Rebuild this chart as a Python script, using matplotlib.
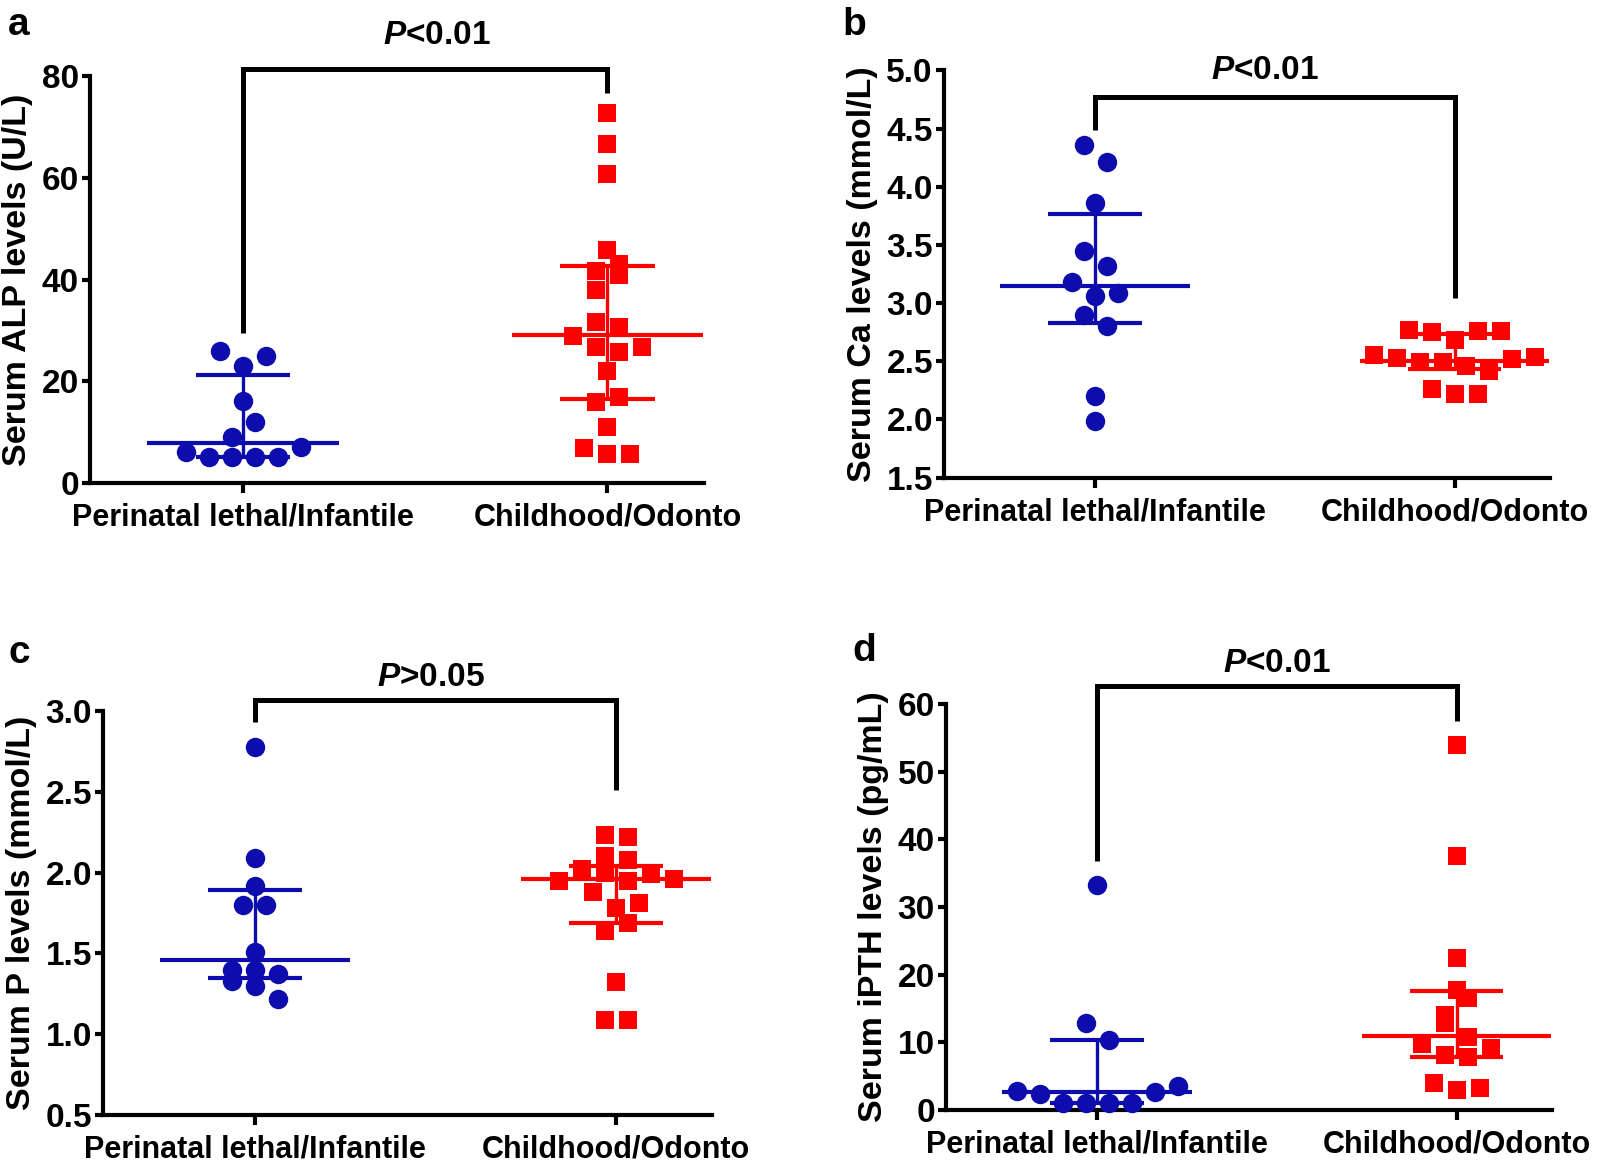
import numpy as np
import matplotlib
matplotlib.use('Agg')
import matplotlib.pyplot as plt
from matplotlib import font_manager

# ---------------- data ----------------
categories = ['Perinatal lethal/Infantile', 'Childhood/Odonto']

alp_peri = [26, 23, 25, 16, 9, 12, 6, 5, 5, 5, 5, 7]
alp_child = [72.8, 66.7, 60.7, 45.8, 41.7, 43.1, 38.0, 41.0, 31.7, 30.6, 28.8,
             26.7, 25.7, 26.7, 22.0, 15.9, 16.9, 10.9, 6.8, 5.6, 5.6]
alp_stats_peri = [7.8, 5.0, 21.2]      # median, q1, q3
alp_stats_child = [29.0, 16.4, 42.6]

ca_peri = [4.36, 4.21, 3.86, 3.45, 3.32, 3.18, 3.06, 3.09, 2.90, 2.80, 2.20, 1.99]
ca_child = [2.77, 2.75, 2.68, 2.76, 2.76, 2.55, 2.53, 2.49, 2.49, 2.46, 2.42,
            2.52, 2.54, 2.26, 2.22, 2.22]
ca_stats_peri = [3.15, 2.83, 3.77]
ca_stats_child = [2.50, 2.43, 2.73]

p_peri = [2.78, 2.09, 1.92, 1.80, 1.80, 1.51, 1.33, 1.40, 1.40, 1.30, 1.37, 1.22]
p_child = [2.23, 2.22, 2.10, 2.08, 1.95, 2.02, 2.00, 1.95, 1.99, 1.96, 1.88,
           1.78, 1.81, 1.64, 1.69, 1.32, 1.09, 1.09]
p_stats_peri = [1.46, 1.35, 1.89]
p_stats_child = [1.96, 1.69, 2.04]

pth_peri = [33.3, 12.8, 10.3, 2.8, 2.4, 1.1, 1.1, 1.1, 1.1, 2.7, 3.6]
pth_child = [53.9, 37.6, 22.4, 17.8, 14.1, 16.5, 12.8, 10.8, 9.7, 8.2, 7.9,
             9.2, 4.0, 3.0, 3.3]
pth_stats_peri = [2.7, 1.1, 10.3]
pth_stats_child = [10.9, 7.9, 17.6]

panel_letters = ['a', 'b', 'c', 'd']
ylabels = ['Serum ALP levels (U/L)', 'Serum Ca levels (mmol/L)',
           'Serum P levels (mmol/L)', 'Serum iPTH levels (pg/mL)']
p_texts = ['<0.01', '<0.01', '>0.05', '<0.01']
yticks_list = [[0, 20, 40, 60, 80],
               [1.5, 2.0, 2.5, 3.0, 3.5, 4.0, 4.5, 5.0],
               [0.5, 1.0, 1.5, 2.0, 2.5, 3.0],
               [0, 10, 20, 30, 40, 50, 60]]
ytick_fmt = ['{:.0f}', '{:.1f}', '{:.1f}', '{:.0f}']

# ---------------- style ----------------
names = {f.name for f in font_manager.fontManager.ttflist}
NARROW = 'Liberation Sans Narrow' if 'Liberation Sans Narrow' in names else 'Liberation Sans'
BOLDF = 'Liberation Sans'
plt.rcParams['mathtext.fontset'] = 'custom'
plt.rcParams['mathtext.it'] = 'Liberation Sans:italic:bold'
plt.rcParams['mathtext.rm'] = NARROW + ':bold'

BLUE = '#0d0dad'
RED = '#ff0000'
W, H = 1600, 1168
fig = plt.figure(figsize=(W / 100, H / 100), dpi=100)

# pixel rectangles (left, top, right, bottom)
rects = [(90, 76.5, 704, 482.7), (944, 70.4, 1550, 477.6),
         (103, 711, 712, 1115), (946, 704, 1552, 1110)]
XLIM = (-0.42, 1.265)
brackets = [(29.5, 81.5, 76.7), (4.49, 4.77, 3.04), (2.93, 3.067, 2.51), (36.8, 62.6, 57.5)]
ptext_pos = [(0.533, 88.0), (0.473, 5.0), (0.486, 3.21), (0.50, 66.0)]
letter_pos = [(8, 35), (842, 35), (8, 663), (852, 661)]

datasets = [(alp_peri, alp_child, alp_stats_peri, alp_stats_child),
            (ca_peri, ca_child, ca_stats_peri, ca_stats_child),
            (p_peri, p_child, p_stats_peri, p_stats_child),
            (pth_peri, pth_child, pth_stats_peri, pth_stats_child)]

BIN_PX = 17.8
STEP_PX = 23.0


def swarm(vals, binsize, step):
    vals = np.asarray(vals, float)
    order = np.argsort(vals, kind='stable')
    bins, cur, start = [], [], None
    for i in order:
        if start is None or vals[i] - start > binsize:
            if cur:
                bins.append(cur)
            cur, start = [i], vals[i]
        else:
            cur.append(i)
    if cur:
        bins.append(cur)
    offs = np.zeros(len(vals))
    for b in bins:
        b = sorted(b)
        n = len(b)
        for k, i in enumerate(b):
            offs[i] = (k - (n - 1) / 2) * step
    return offs


for pi in range(4):
    l, t, r, b = rects[pi]
    ax = fig.add_axes([l / W, 1 - b / H, (r - l) / W, (b - t) / H])
    yt = yticks_list[pi]
    ymin, ymax = yt[0], yt[-1]
    ax.set_xlim(*XLIM)
    ax.set_ylim(ymin, ymax)
    for s in ['top', 'right']:
        ax.spines[s].set_visible(False)
    for s in ['left', 'bottom']:
        ax.spines[s].set_linewidth(3.0)
        ax.spines[s].set_capstyle('projecting')
    ax.set_yticks(yt)
    ax.set_yticklabels([ytick_fmt[pi].format(v) for v in yt])
    ax.set_xticks([0, 1])
    ax.set_xticklabels(categories)
    ax.tick_params(axis='y', direction='out', length=6, width=3.0, pad=2,
                   labelsize=24)
    ax.tick_params(axis='x', direction='out', length=7, width=3.0, pad=7,
                   labelsize=22)
    for lab in ax.get_xticklabels() + ax.get_yticklabels():
        lab.set_fontfamily(NARROW)
        lab.set_fontweight('bold')
    ax.set_ylabel(ylabels[pi], fontsize=24.5, fontweight='bold', fontfamily=BOLDF,
                  labelpad=6)

    xpx = (r - l) / (XLIM[1] - XLIM[0])
    ypx = (b - t) / (ymax - ymin)
    peri, child, sp, sc = datasets[pi]
    groups = [(peri, sp, BLUE, 'o', 14), (child, sc, RED, 's', 13.5)]
    for gi, (vals, st, col, mk, ms) in enumerate(groups):
        offs = swarm(vals, BIN_PX / ypx, STEP_PX / xpx)
        ax.plot(gi + offs, vals, ls='none', marker=mk, ms=ms, color=col,
                mec=col, mew=0, clip_on=False, zorder=3)
        med, q1, q3 = st
        ax.hlines(med, gi - 0.263, gi + 0.263, color=col, lw=3.0, zorder=4)
        ax.hlines([q1, q3], gi - 0.13, gi + 0.13, color=col, lw=3.0, zorder=4)
        ax.vlines(gi, q1, q3, color=col, lw=2.4, zorder=4)

    yl, ytop, yr = brackets[pi]
    ax.plot([0, 0, 1, 1], [yl, ytop, ytop, yr], color='black', lw=3.6,
            clip_on=False, solid_joinstyle='miter', solid_capstyle='butt', zorder=5)
    px, py = ptext_pos[pi]
    ax.text(px, py, '$P$' + p_texts[pi], ha='center', va='center', fontsize=24,
            fontfamily=NARROW, fontweight='bold', clip_on=False)

    lx, ly = letter_pos[pi]
    fig.text(lx / W, 1 - ly / H, panel_letters[pi], fontsize=28, fontweight='bold',
             fontfamily=BOLDF, ha='left', va='baseline')

fig.savefig('out.png', dpi=100)
